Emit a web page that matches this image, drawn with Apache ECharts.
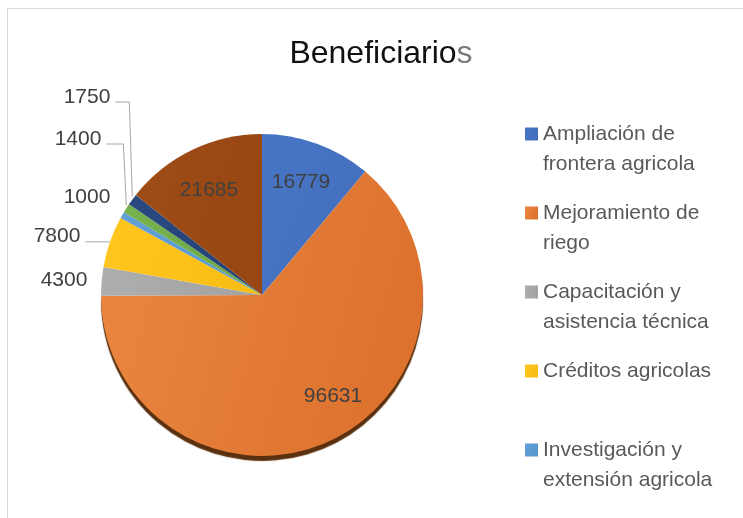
<!DOCTYPE html>
<html>
<head>
<meta charset="utf-8">
<script src="https://cdn.jsdelivr.net/npm/echarts@6/dist/echarts.min.js"></script>
<style>
html,body{margin:0;padding:0;background:#fff;}
#wrap{position:relative;width:743px;height:518px;overflow:hidden;}
#frame{position:absolute;left:7px;top:8px;width:760px;height:540px;border-left:1px solid #d9d9d9;border-top:1px solid #d9d9d9;}
#chart{position:absolute;left:0;top:0;width:743px;height:518px;}
</style>
</head>
<body>
<div id="wrap"><div id="frame"></div><div id="chart"></div></div>
<script>
// ---- data ----
const categories = [
  'Ampliación de frontera agricola',
  'Mejoramiento de riego',
  'Capacitación y asistencia técnica',
  'Créditos agricolas',
  'Investigación y extensión agricola',
  'Otro programa 6',
  'Otro programa 7',
  'Otro programa 8'
];
const values = [16779, 96631, 4300, 7800, 1000, 1400, 1750, 21685];
const legendNames = categories.slice(0, 5);
const legendLines = {
  'Ampliación de frontera agricola': ' \nAmpliación de\nfrontera agricola',
  'Mejoramiento de riego': ' \nMejoramiento de\nriego',
  'Capacitación y asistencia técnica': ' \nCapacitación y\nasistencia técnica',
  'Créditos agricolas': ' \nCréditos agricolas\n ',
  'Investigación y extensión agricola': ' \nInvestigación y\nextensión agricola'
};

// ---- styles ----
const baseColors = ['#4472C4', '#ED7D31', '#A5A5A5', '#FFC000', '#5B9BD5', '#70AD47', '#264478', '#9E480E'];
const gradPairs = [
  ['#4775C5', '#4470BE'],
  ['#EB8742', '#DC722D'],
  ['#AEAEAE', '#A2A2A2'],
  ['#FFC61F', '#F8BD12'],
  ['#62A0D8', '#5896CF'],
  ['#76B24D', '#6BA843'],
  ['#2A4A80', '#244274'],
  ['#A04E18', '#984612']
];
const showLine = [false, false, false, true, false, true, true, false];
// label centres (manual placement as in the original chart)
const labelSpots = [
  [301, 182], [333, 396], [64, 280], [57, 236],
  [87, 197], [78, 139], [87, 97], [209, 190]
];

const FONT = 'Liberation Sans';
const CENTER = [262, 295];
const RADIUS = 161;

const total = values.reduce((a, b) => a + b, 0);
// point on the rim at each slice's middle angle (clockwise from 12 o'clock)
const rimPoints = (() => {
  let cum = 0;
  return values.map(v => {
    const mid = (cum + v / 2) / total * Math.PI * 2;
    cum += v;
    return [CENTER[0] + RADIUS * Math.sin(mid), CENTER[1] - RADIUS * Math.cos(mid)];
  });
})();

const pieData = values.map((v, i) => {
  const item = {
    name: categories[i],
    value: v,
    itemStyle: {
      color: new echarts.graphic.LinearGradient(0, 0, 1, 0.3, [
        { offset: 0, color: gradPairs[i][0] },
        { offset: 1, color: gradPairs[i][1] }
      ])
    },
    labelLine: { show: showLine[i], length: 6, length2: 10 }
  };
  if (i === 1) {
    item.itemStyle.shadowColor = '#5a300f';
    item.itemStyle.shadowOffsetY = 5;
    item.itemStyle.shadowOffsetX = 0;
    item.itemStyle.shadowBlur = 1;
  }
  return item;
});

const chart = echarts.init(document.getElementById('chart'), null, { renderer: 'canvas' });
chart.setOption({
  backgroundColor: 'transparent',
  animation: false,
  color: baseColors,
  title: {
    text: '{a|Beneficiario}{b|s}',
    left: 381,
    top: 38,
    padding: 0,
    textAlign: 'center',
    textStyle: {
      rich: {
        a: { fontFamily: FONT, fontSize: 32, fontWeight: 'normal', color: '#111111' },
        b: { fontFamily: FONT, fontSize: 32, fontWeight: 'normal', color: '#7a7a7a' }
      }
    }
  },
  legend: {
    orient: 'vertical',
    left: 525,
    top: 89,
    padding: 0,
    itemGap: -11,
    itemWidth: 13,
    itemHeight: 13,
    icon: 'rect',
    selectedMode: false,
    data: legendNames,
    formatter: (n) => legendLines[n] || n,
    textStyle: {
      fontFamily: FONT,
      fontSize: 21,
      color: '#595959',
      lineHeight: 30
    }
  },
  series: [{
    type: 'pie',
    center: CENTER,
    radius: RADIUS,
    startAngle: 90,
    clockwise: true,
    avoidLabelOverlap: false,
    silent: true,
    data: pieData,
    label: {
      show: true,
      position: 'outside',
      formatter: '{c}',
      fontFamily: FONT,
      fontSize: 21,
      color: '#404040'
    },
    labelLine: {
      lineStyle: { color: '#a6a6a6', width: 1 },
      smooth: false
    },
    labelLayout: (p) => {
      const i = p.dataIndex;
      const s = labelSpots[i];
      const out = { x: s[0], y: s[1], align: 'center', verticalAlign: 'middle' };
      if (showLine[i]) {
        const rim = rimPoints[i];
        const startX = s[0] + p.labelRect.width / 2 + 5;
        if (rim[1] - s[1] > 20) {
          const y = s[1] + 5;
          out.labelLinePoints = [[startX, y], [rim[0] - 3, y], [rim[0], rim[1] - 3]];
        } else {
          out.labelLinePoints = [[startX, rim[1]], [rim[0] - 1, rim[1]], [rim[0], rim[1]]];
        }
      }
      return out;
    }
  }]
});
</script>
</body>
</html>
